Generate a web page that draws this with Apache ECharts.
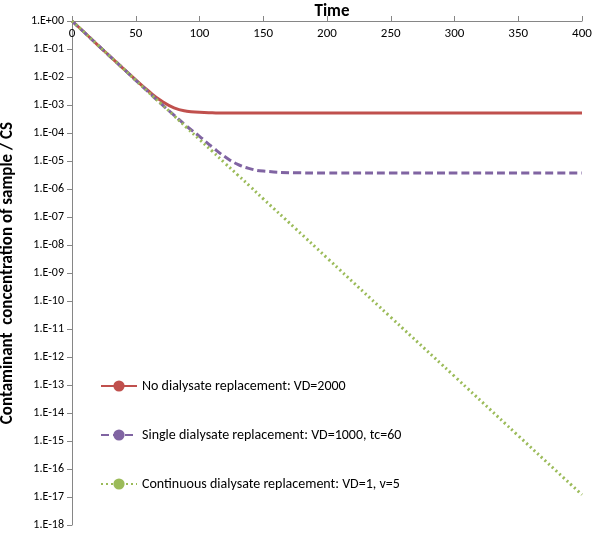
<!DOCTYPE html>
<html>
<head>
<meta charset="utf-8">
<script src="https://cdn.jsdelivr.net/npm/echarts@6/dist/echarts.min.js"></script>
<style>html,body{margin:0;padding:0;background:#fff}#c{width:597px;height:535px}</style>
</head>
<body>
<div id="c"></div>
<script>
// time samples and log10 of concentration
const times = [0, 10, 20, 30, 40, 50, 60, 70, 80, 90, 100, 110, 120, 130, 140, 150, 175, 200, 250, 300, 350, 400]
const redExp = [0, -0.42, -0.85, -1.27, -1.69, -2.1, -2.5, -2.85, -3.1, -3.22, -3.26, -3.28, -3.29, -3.29, -3.29, -3.29, -3.29, -3.29, -3.29, -3.29, -3.29, -3.29]
const purpleExp = [0, -0.42, -0.85, -1.27, -1.69, -2.12, -2.54, -2.96, -3.36, -3.76, -4.12, -4.5, -4.85, -5.12, -5.28, -5.36, -5.42, -5.43, -5.43, -5.43, -5.43, -5.43]
const greenExp = [0, -0.42, -0.85, -1.27, -1.69, -2.12, -2.54, -2.96, -3.38, -3.81, -4.23, -4.65, -5.08, -5.5, -5.92, -6.35, -7.4, -8.46, -10.58, -12.69, -14.81, -16.92]
const names = [
    'No dialysate replacement: VD=2000',
    'Single dialysate replacement: VD=1000, tc=60',
    'Continuous dialysate replacement: VD=1, v=5'
]

const toPts = exps => times.map((t, i) => [t, Math.pow(10, exps[i])])

const fmtY = v => {
    const e = Math.round(Math.log10(v))
    const a = Math.abs(e)
    return '1.E' + (e < 0 ? '-' : '+') + (a < 10 ? '0' + a : a)
}

const chart = echarts.init(document.getElementById('c'))
const font = 'Calibri, Carlito, "Open Sans", sans-serif'
chart.setOption({
    animation: false,
    textStyle: { fontFamily: font },
    title: {
        text: 'Time', left: 327, top: -2, textAlign: 'center',
        textStyle: { fontSize: 17, fontWeight: 'bold', color: '#000', fontFamily: font }
    },
    grid: { left: 72, right: 15, top: 21, bottom: 10, containLabel: false, outerBoundsMode: 'none' },
    legend: {
        orient: 'vertical', left: 95, top: 374, itemGap: 35,
        itemWidth: 36, itemHeight: 14,
        textStyle: { fontSize: 14, color: '#000', fontFamily: font },
        data: names
    },
    xAxis: {
        type: 'value', position: 'top', min: 0, max: 400, interval: 50,
        axisLine: { lineStyle: { color: '#868686' } },
        axisTick: { lineStyle: { color: '#868686' }, length: 5 },
        axisLabel: { inside: true, color: '#000', fontSize: 13, margin: 6, verticalAlign: 'top' },
        splitLine: { show: false }
    },
    yAxis: {
        type: 'log', logBase: 10, min: 1e-18, max: 1, interval: 1,
        name: 'Contaminant  concentration of sample / CS',
        nameLocation: 'middle', nameGap: 56, nameRotate: 90,
        nameTextStyle: { fontSize: 17, fontWeight: 'bold', color: '#000', fontFamily: font },
        axisLine: { show: true, lineStyle: { color: '#868686' } },
        axisTick: { show: true, lineStyle: { color: '#868686' }, length: 5 },
        minorTick: { show: false },
        axisLabel: { color: '#000', fontSize: 12, margin: 8, formatter: fmtY },
        splitLine: { show: false }
    },
    series: [
        { name: names[0], type: 'line', smooth: true, symbol: 'none', data: toPts(redExp),
          lineStyle: { color: '#c0504d', width: 3 }, itemStyle: { color: '#c0504d' } },
        { name: names[1], type: 'line', smooth: true, symbol: 'none', data: toPts(purpleExp),
          lineStyle: { color: '#8064a2', width: 3, type: [8, 4] }, itemStyle: { color: '#8064a2' } },
        { name: names[2], type: 'line', smooth: true, symbol: 'none', data: toPts(greenExp),
          lineStyle: { color: '#9bbb59', width: 3, type: [2, 3] }, itemStyle: { color: '#9bbb59' } }
    ]
})
</script>
</body>
</html>
